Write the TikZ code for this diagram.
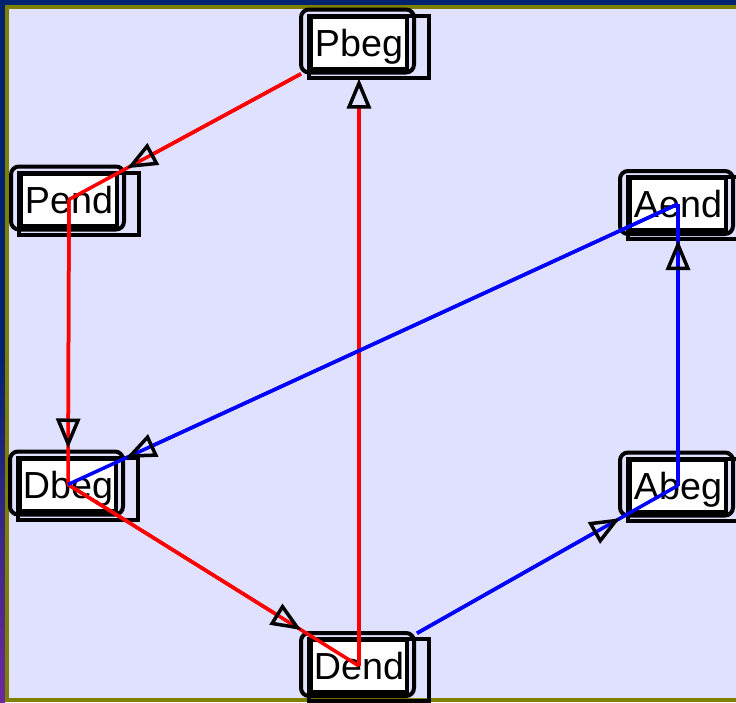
\documentclass[tikz,border=0pt]{standalone}
\usepackage{fontspec}
\newfontfamily\statefont{Liberation Sans}
\usetikzlibrary{arrows.meta}
\definecolor{framenavy}{RGB}{0, 35, 112}
\definecolor{framepurple}{RGB}{108, 42, 156}
\definecolor{frameolive}{RGB}{128, 128, 0}
\definecolor{paneblue}{RGB}{224, 224, 255}
\definecolor{flowred}{RGB}{255, 0, 0}
\definecolor{flowblue}{RGB}{0, 0, 255}

\tikzset{
  state/.style={draw=black, line width=4pt, fill=white, minimum width=96pt, minimum height=52pt, inner sep=0pt, outer xsep=10pt, outer ysep=10pt, text height=27pt, text depth=0pt, font=\statefont\fontsize{37.7pt}{40pt}\selectfont},
  roundbox/.style={draw=black, line width=4pt, rounded corners=8pt},
  sharpbox/.style={draw=black, line width=4pt},
  redflow/.style={draw=flowred, line width=3.5pt},
  blueflow/.style={draw=flowblue, line width=3.5pt},
  flowtip/.style={-{Triangle[open, length=30pt, width=24pt, line width=3.5pt, color=black]}}
}

\begin{document}
\begin{tikzpicture}[x=1pt, y=-1pt]
  \useasboundingbox (0,0) rectangle (736,702);

  % Frame and pane
  \fill[framenavy] (0,0) rectangle (736,5);
  \shade[top color=framenavy, bottom color=framepurple, middle color=framenavy] (0,0) rectangle (5,702);
  \fill[frameolive] (5,5) rectangle (736,702);
  \fill[paneblue] (9,9) rectangle (736,698);

  % States
  \node[state] (Pbeg) at (359,42.5) {Pbeg};
  \node[state] (Pend) at (69,199.5) {Pend};
  \node[state] (Dbeg) at (68,484.5) {Dbeg};
  \node[state] (Dend) at (359,666) {Dend};
  \node[state] (Aend) at (678,204) {Aend};
  \node[state] (Abeg) at (678,485.5) {Abeg};

  % Frames round each state
  \foreach \s in {Pbeg, Pend, Dbeg, Dend, Aend, Abeg} {
    \draw[roundbox] ([shift={(-58,-33)}]\s.center) rectangle ([shift={(55,30)}]\s.center);
    \draw[sharpbox] ([shift={(-50,-27)}]\s.center) rectangle ([shift={(70,35)}]\s.center);
  }

  % P to D (red)
  \draw[redflow] (Pbeg) -- (Pend.center);
  \draw[redflow, flowtip] (Pbeg) -- (Pend);
  \draw[redflow] (Pend.center) -- (Dbeg.center);
  \draw[redflow, flowtip] (Pend.center) -- (Dbeg);
  \draw[redflow] (Dbeg.center) -- (Dend.center);
  \draw[redflow, flowtip] (Dbeg.center) -- (Dend);
  \draw[redflow, flowtip] (Dend.center) -- (Pbeg);

  % D to A (blue)
  \draw[blueflow] (Dend) -- (Abeg.center);
  \draw[blueflow, flowtip] (Dend) -- (Abeg);
  \draw[blueflow] (Abeg.center) -- (Aend.center);
  \draw[blueflow, flowtip] (Abeg.center) -- (Aend);
  \draw[blueflow] (Aend.center) -- (Dbeg.center);
  \draw[blueflow, flowtip] (Aend.center) -- (Dbeg);
\end{tikzpicture}
\end{document}
